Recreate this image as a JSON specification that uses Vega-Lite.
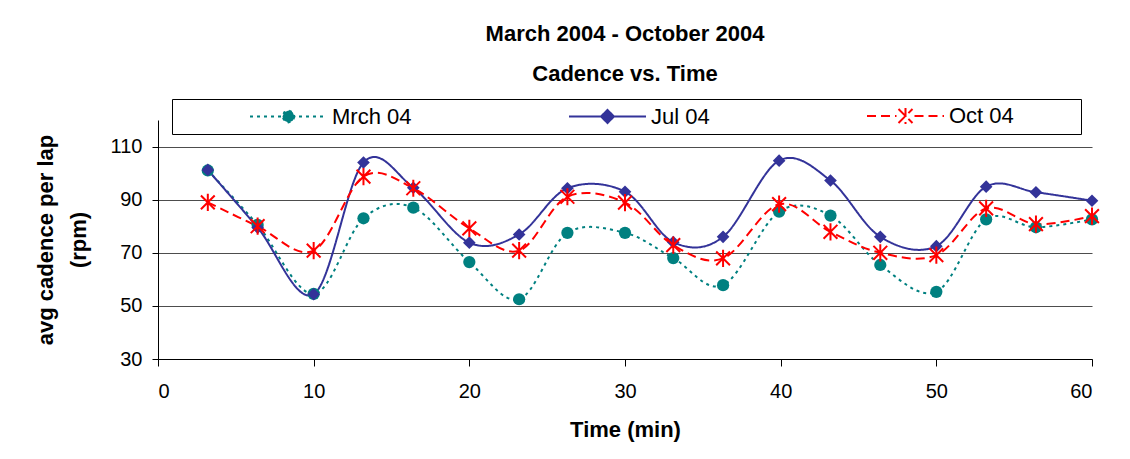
{
  "$schema": "https://vega.github.io/schema/vega-lite/v6.json",
  "width": 934,
  "height": 239,
  "autosize": {"type": "none"},
  "padding": {"left": 158, "top": 120, "right": 38, "bottom": 100},
  "background": "white",
  "config": {
    "font": "Liberation Sans",
    "view": {"stroke": null},
    "axis": {"domainColor": "black", "tickColor": "black", "labelColor": "black", "titleColor": "black", "labelFont": "Liberation Sans", "titleFont": "Liberation Sans"}
  },
  "title": {
    "text": ["March 2004 - October 2004", "Cadence vs. Time"],
    "fontSize": 22,
    "fontWeight": "bold",
    "font": "Liberation Sans",
    "color": "black",
    "lineHeight": 40,
    "anchor": "middle",
    "frame": "group",
    "offset": 13
  },
  "data": {
    "values": [
      {"t": 3.2, "series": "Mrch 04", "v": 101},
      {"t": 6.4, "series": "Mrch 04", "v": 80.5},
      {"t": 10, "series": "Mrch 04", "v": 54.5},
      {"t": 13.2, "series": "Mrch 04", "v": 83},
      {"t": 16.4, "series": "Mrch 04", "v": 87},
      {"t": 20, "series": "Mrch 04", "v": 66.5},
      {"t": 23.2, "series": "Mrch 04", "v": 52.5},
      {"t": 26.3, "series": "Mrch 04", "v": 77.5},
      {"t": 30, "series": "Mrch 04", "v": 77.5},
      {"t": 33.1, "series": "Mrch 04", "v": 68},
      {"t": 36.3, "series": "Mrch 04", "v": 57.8},
      {"t": 39.9, "series": "Mrch 04", "v": 85.5},
      {"t": 43.2, "series": "Mrch 04", "v": 84},
      {"t": 46.4, "series": "Mrch 04", "v": 65.4},
      {"t": 50, "series": "Mrch 04", "v": 55.3},
      {"t": 53.2, "series": "Mrch 04", "v": 82.6},
      {"t": 56.4, "series": "Mrch 04", "v": 79.6},
      {"t": 60, "series": "Mrch 04", "v": 82.6},
      {"t": 3.2, "series": "Jul 04", "v": 101.2},
      {"t": 6.4, "series": "Jul 04", "v": 79.5},
      {"t": 10, "series": "Jul 04", "v": 54.4},
      {"t": 13.2, "series": "Jul 04", "v": 104},
      {"t": 16.4, "series": "Jul 04", "v": 94.5},
      {"t": 20, "series": "Jul 04", "v": 73.8},
      {"t": 23.2, "series": "Jul 04", "v": 76.9},
      {"t": 26.3, "series": "Jul 04", "v": 94.3},
      {"t": 30, "series": "Jul 04", "v": 93},
      {"t": 33.1, "series": "Jul 04", "v": 74},
      {"t": 36.3, "series": "Jul 04", "v": 76},
      {"t": 39.9, "series": "Jul 04", "v": 104.7},
      {"t": 43.2, "series": "Jul 04", "v": 97.2},
      {"t": 46.4, "series": "Jul 04", "v": 76},
      {"t": 50, "series": "Jul 04", "v": 72.5},
      {"t": 53.2, "series": "Jul 04", "v": 94.9},
      {"t": 56.4, "series": "Jul 04", "v": 92.8},
      {"t": 60, "series": "Jul 04", "v": 89.6},
      {"t": 3.2, "series": "Oct 04", "v": 89},
      {"t": 6.4, "series": "Oct 04", "v": 80},
      {"t": 10, "series": "Oct 04", "v": 70.8},
      {"t": 13.2, "series": "Oct 04", "v": 98.7},
      {"t": 16.4, "series": "Oct 04", "v": 94.3},
      {"t": 20, "series": "Oct 04", "v": 79.2},
      {"t": 23.2, "series": "Oct 04", "v": 70.8},
      {"t": 26.3, "series": "Oct 04", "v": 91.1},
      {"t": 30, "series": "Oct 04", "v": 88.9},
      {"t": 33.1, "series": "Oct 04", "v": 72.9},
      {"t": 36.3, "series": "Oct 04", "v": 67.9},
      {"t": 39.9, "series": "Oct 04", "v": 88.3},
      {"t": 43.2, "series": "Oct 04", "v": 77.9},
      {"t": 46.4, "series": "Oct 04", "v": 70},
      {"t": 50, "series": "Oct 04", "v": 69.1},
      {"t": 53.2, "series": "Oct 04", "v": 86.7},
      {"t": 56.4, "series": "Oct 04", "v": 80.8},
      {"t": 60, "series": "Oct 04", "v": 83.8}
    ]
  },
  "encoding": {
    "x": {
      "field": "t",
      "type": "quantitative",
      "scale": {"domain": [0, 60], "nice": false, "zero": false},
      "axis": {
        "values": [0, 10, 20, 30, 40, 50, 60],
        "title": "Time (min)",
        "titleFontSize": 22,
        "titleFontWeight": "bold",
        "titlePadding": 18,
        "labelFontSize": 20,
        "labelPadding": 15,
        "tickSize": 7,
        "grid": false
      }
    },
    "y": {
      "field": "v",
      "type": "quantitative",
      "scale": {"domain": [30, 120], "nice": false, "zero": false},
      "axis": {
        "values": [30, 50, 70, 90, 110],
        "title": ["avg cadence per lap", "(rpm)"],
        "titleFontSize": 22,
        "titleFontWeight": "bold",
        "titleLineHeight": 33,
        "titlePadding": 20,
        "labelFontSize": 20,
        "labelPadding": 10,
        "tickSize": 6,
        "grid": true,
        "gridColor": "#4d4d4d",
        "gridWidth": 1.2
      }
    }
  },
  "layer": [
    {
      "mark": {"type": "line", "interpolate": "cardinal", "strokeWidth": 2},
      "encoding": {
        "color": {
          "field": "series",
          "type": "nominal",
          "scale": {"domain": ["Mrch 04", "Jul 04", "Oct 04"], "range": ["#008080", "#333399", "#FF0000"]},
          "legend": {
            "orient": "none",
            "legendX": 14,
            "legendY": -21,
            "direction": "horizontal",
            "columns": 3,
            "columnPadding": 153,
            "strokeColor": "black",
            "fillColor": "white",
            "padding": 6,
            "title": " ",
            "titleOrient": "left",
            "titleFontSize": 1,
            "titlePadding": 71,
            "labelFontSize": 22,
            "labelFont": "Liberation Sans",
            "labelColor": "black",
            "labelOffset": 61,
            "labelLimit": 400,
            "symbolSize": 400,
            "symbolStrokeWidth": 2,
            "labelExpr": "datum.label === 'Oct 04' ? 'Oct 04          \u200b' : datum.label",
            "encoding": {
              "symbols": {
                "shape": {"value": {"expr": "datum.value === 'Mrch 04' ? 'M-1,0H6.7M3.45,0L3.27,0.42L2.85,0.6L2.43,0.42L2.25,0L2.43,-0.42L2.85,-0.6L3.27,-0.42Z' : datum.value === 'Jul 04' ? 'M-1,0H6.7M2.85,-0.65L3.5,0L2.85,0.65L2.2,0Z' : 'M-1,0H1.95M3.75,0H6.7M2.15,-0.7L3.55,0.7M2.15,0.7L3.55,-0.7M2.85,-0.8V0.8'"}},
                "strokeDash": {"value": {"expr": "datum.value === 'Mrch 04' ? [3, 4] : datum.value === 'Oct 04' ? [9, 5] : [1, 0]"}},
                "fill": {"value": {"expr": "datum.value === 'Mrch 04' ? '#008080' : datum.value === 'Jul 04' ? '#333399' : '#FF0000'"}},
                "stroke": {"value": {"expr": "datum.value === 'Mrch 04' ? '#008080' : datum.value === 'Jul 04' ? '#333399' : '#FF0000'"}},
                "strokeWidth": {"value": 2},
                "opacity": {"value": 1},
                "fillOpacity": {"value": 1},
                "strokeOpacity": {"value": 1}
              }
            }
          }
        },
        "strokeDash": {
          "field": "series",
          "type": "nominal",
          "scale": {"domain": ["Mrch 04", "Jul 04", "Oct 04"], "range": [[3, 4], [1, 0], [9, 5]]},
          "legend": null
        }
      }
    },
    {
      "transform": [{"filter": "datum.series === 'Mrch 04'"}],
      "mark": {"type": "point", "shape": "circle", "filled": true, "size": 150, "color": "#008080", "opacity": 1}
    },
    {
      "transform": [{"filter": "datum.series === 'Jul 04'"}],
      "mark": {"type": "point", "shape": "diamond", "filled": true, "size": 160, "color": "#333399", "opacity": 1}
    },
    {
      "transform": [{"filter": "datum.series === 'Oct 04'"}],
      "mark": {"type": "point", "shape": "M-1,-1L1,1M-1,1L1,-1M0,-1.25L0,1.25", "filled": false, "size": 190, "strokeWidth": 2, "color": "#FF0000", "opacity": 1}
    }
  ]
}
